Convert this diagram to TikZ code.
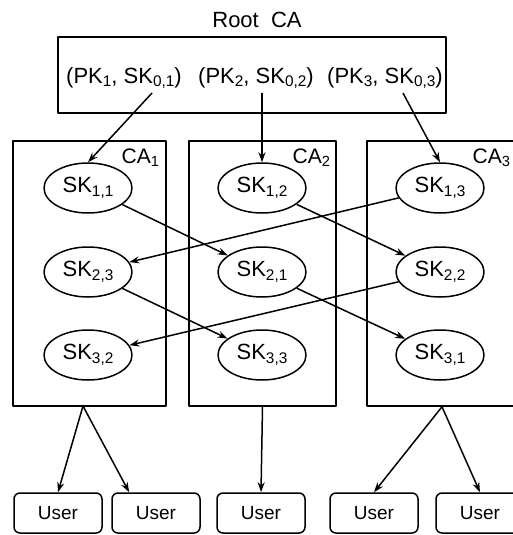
\documentclass[tikz,border=0pt]{standalone}
\usepackage{fontspec}
\setmainfont{Liberation Sans}
\usetikzlibrary{positioning,calc,arrows.meta,shapes.geometric}
\newcommand{\idx}[1]{\raisebox{-0.3ex}{\scalebox{0.7}{#1}}}

\begin{document}
\begin{tikzpicture}[x=1pt, y=-1pt, line width=1.5pt, line join=round,
	>={Stealth[length=10pt,width=7pt]},
	key/.style={ellipse, draw, minimum width=88pt, minimum height=50pt, inner sep=0pt, font=\fontsize{22}{24}\selectfont},
	cabox/.style={draw, minimum height=265pt, inner sep=0pt},
	calbl/.style={inner sep=0pt, font=\fontsize{21}{23}\selectfont},
	user/.style={draw, rounded corners=6pt, minimum width=88pt, minimum height=40pt, font=\fontsize{19}{21}\selectfont},
	pair/.style={inner sep=0pt, font=\fontsize{22}{24}\selectfont}]
	\useasboundingbox (0,0) rectangle (513,535);
	\clip (0,0) rectangle (513,535);
	% root CA
	\node[draw, minimum width=388pt, minimum height=76pt] (root) at (252,75) {};
	\node[inner sep=0pt, font=\fontsize{22}{24}\selectfont] (rootlbl) at (257,20) {Root\ \ CA};
	\node[pair] (p1) at (124,78) {(PK\idx{1}, SK\idx{0,1})};
	\node[pair] (p2) at (256,78) {(PK\idx{2}, SK\idx{0,2})};
	\node[pair] (p3) at (385,78) {(PK\idx{3}, SK\idx{0,3})};
	\coordinate (r1) at (152,93);
	\coordinate (r2) at (262,93);
	\coordinate (r3) at (403,93);
	% the three CAs
	\node[cabox, minimum width=153pt] (ca1) at (89.5,273.5) {};
	\node[cabox, minimum width=147pt] (ca2) at (262.5,273.5) {};
	\node[cabox, minimum width=150pt] (ca3) at (442,273.5) {};
	\node[calbl, below left=8pt and 7pt of ca1.north east] (l1) {CA\idx{1}};
	\node[calbl, below left=8pt and 6pt of ca2.north east] (l2) {CA\idx{2}};
	\node[calbl, below left=8pt and 7pt of ca3.north east] (l3) {CA\idx{3}};
	\foreach \n/\t/\x/\y in {sk11/{1,1}/88/188, sk12/{1,2}/262/188, sk13/{1,3}/440/188,
		sk23/{2,3}/88/272, sk21/{2,1}/262/272, sk22/{2,2}/440/272,
		sk32/{3,2}/88/355, sk33/{3,3}/262/355, sk31/{3,1}/440/355}
	\node[key] (\n) at (\x,\y) {SK\idx{\t}};
	\draw[->] (r1) -- (sk11.north);
	\draw[->] (r2) -- (sk12.north);
	\draw[->] (r3) -- (sk13.north);
	\foreach \a/\b in {sk11/sk21, sk12/sk22, sk13/sk23, sk23/sk33, sk21/sk31, sk22/sk32}
	\draw[->] (\a) -- (\b);
	% users
	\foreach \n/\x in {1/58, 2/156, 3/261, 4/374, 5/480}
	\node[user] (u\n) at (\x,513) {User};
	\coordinate (b1) at (83,406);
	\draw[->] (b1) -- (u1.north);
	\draw[->] (b1) -- ($(u2.north west)!.2!(u2.north east)$);
	\draw[->] (ca2.south) -- (u3.north);
	\draw[->] (ca3.south) -- (u4.north);
	\draw[->] (ca3.south) -- (u5.north);
\end{tikzpicture}
\end{document}
